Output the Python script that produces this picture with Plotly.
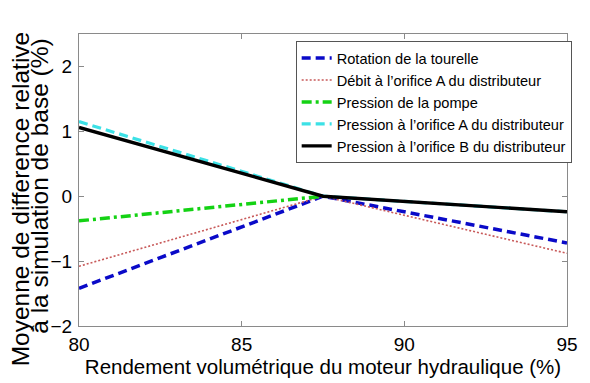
import plotly.graph_objects as go

# Volumetric efficiency of the hydraulic motor (%)
rendement = [80, 87.5, 95]

# Mean relative difference from the base simulation (%)
rotation_tourelle = [-1.42, 0.0, -0.72]
debit_orifice_a = [-1.08, 0.0, -0.88]
pression_pompe = [-0.38, 0.0, None]
pression_orifice_a = [1.15, 0.0, -0.24]
pression_orifice_b = [1.06, 0.0, -0.24]

noms = [
    "Rotation de la tourelle",
    "Débit à l’orifice A du distributeur",
    "Pression de la pompe",
    "Pression à l’orifice A du distributeur",
    "Pression à l’orifice B du distributeur",
]

x_ticks = [80, 85, 90, 95]
y_ticks = [-2, -1, 0, 1, 2]

styles = [
    dict(color="rgb(10,10,200)", width=3.5, dash="9px,5px"),
    dict(color="rgb(200,90,90)", width=1.6, dash="2px,2px"),
    dict(color="rgb(20,210,20)", width=3.5, dash="10px,4px,3px,4px"),
    dict(color="rgb(60,225,230)", width=3.2, dash="9px,5px"),
    dict(color="black", width=3.4, dash="solid"),
]

series = [rotation_tourelle, debit_orifice_a, pression_pompe,
          pression_orifice_a, pression_orifice_b]

fig = go.Figure()
for nom, vals, st in zip(noms, series, styles):
    fig.add_trace(go.Scatter(x=rendement, y=vals, mode="lines", name=nom,
                             line=st, connectgaps=False))

font_family = "Liberation Sans, Arial, sans-serif"
axis_common = dict(
    showgrid=False, zeroline=False, showline=True, linecolor="#8a8a8a",
    linewidth=1.2, mirror="ticks", ticks="inside", ticklen=5,
    tickcolor="#8a8a8a", tickfont=dict(size=19, color="black", family=font_family),
)

fig.update_layout(
    width=590, height=383,
    margin=dict(l=79, r=17, t=34, b=54),
    paper_bgcolor="white", plot_bgcolor="white",
    font=dict(family=font_family, color="black"),
    xaxis=dict(range=[80, 95], tickvals=x_ticks, ticklabelstandoff=1,
               title=dict(text="Rendement volumétrique du moteur hydraulique (%)",
                          font=dict(size=20.5), standoff=2),
               **axis_common),
    yaxis=dict(range=[-2, 2.5], tickvals=y_ticks, ticklabelstandoff=2,
               **axis_common),
    legend=dict(x=0.444, y=0.976, xanchor="left", yanchor="top",
                bgcolor="white", bordercolor="#555", borderwidth=1,
                font=dict(size=14.6, color="black"), tracegroupgap=0,
                itemwidth=30),
    showlegend=True,
)

# Two-line y-axis title, drawn as rotated annotations
fig.add_annotation(text="Moyenne de difference relative", textangle=-90,
                   xref="paper", yref="paper", x=-0.121, y=0.437,
                   xanchor="center", yanchor="middle", showarrow=False,
                   font=dict(size=24.5, color="black"))
fig.add_annotation(text="à la simulation de base (%)", textangle=-90,
                   xref="paper", yref="paper", x=-0.08, y=0.48,
                   xanchor="center", yanchor="middle", showarrow=False,
                   font=dict(size=24.5, color="black"))

fig.write_html("out.html")
